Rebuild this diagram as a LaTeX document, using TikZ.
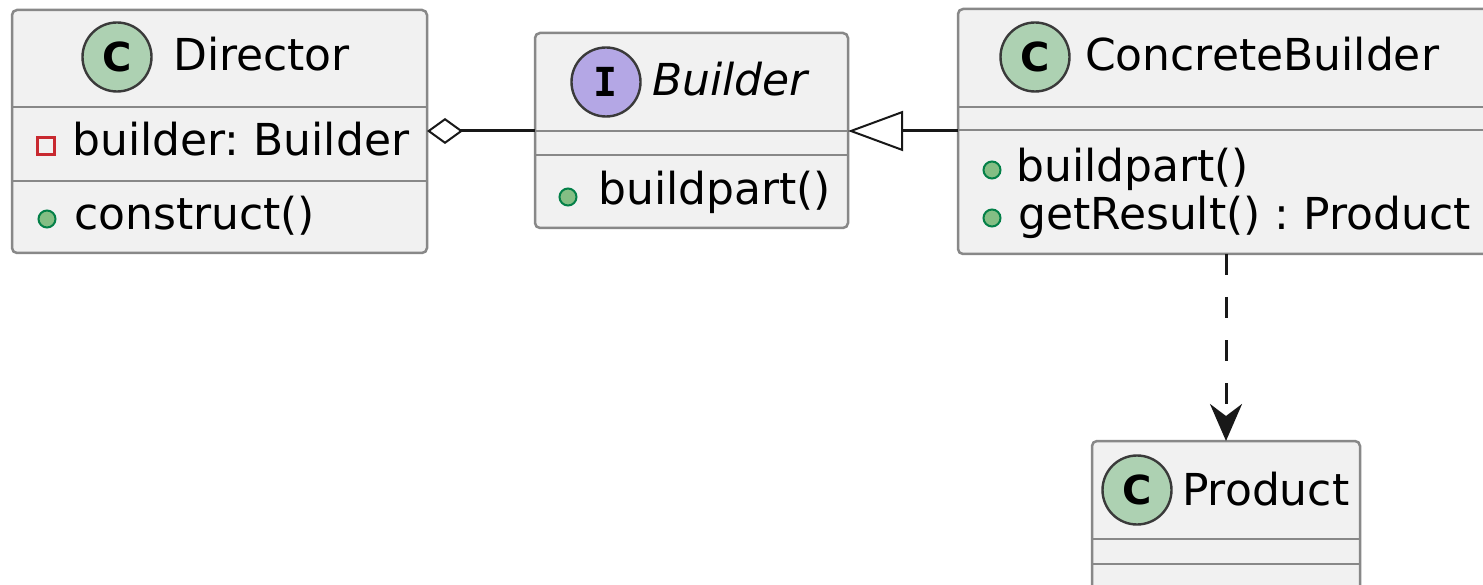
\documentclass[tikz,border=0pt]{standalone}
\usepackage{fontspec}
\setmainfont{DejaVu Sans}
\newfontfamily\stereomono{DejaVu Sans Mono}
\usetikzlibrary{arrows.meta}
\frenchspacing

\definecolor{boxfill}{HTML}{F1F1F1}
\definecolor{boxline}{HTML}{888888}
\definecolor{classC}{HTML}{ADD1B2}
\definecolor{ifaceI}{HTML}{B4A7E5}
\definecolor{ink}{HTML}{181818}
\definecolor{badgeline}{HTML}{3A3A3A}
\definecolor{privred}{HTML}{C82930}
\definecolor{pubfill}{HTML}{84BE84}
\definecolor{publine}{HTML}{038048}

\tikzset{
  classbox/.style={draw=boxline, fill=boxfill, line width=2.5pt, rounded corners=5pt,
    anchor=north west, inner sep=0pt, outer sep=0pt, rectangle},
  sepline/.style={draw=boxline, line width=2.5pt},
  badge/.style={circle, draw=badgeline, line width=2.4pt, minimum size=69pt, inner sep=0pt,
    font=\fontsize{40}{40}\selectfont\bfseries},
  membertext/.style={anchor=base west, inner sep=0pt, font=\fontsize{44}{50}\selectfont},
  privmark/.style={rectangle, draw=privred, line width=2.5pt, minimum size=17pt, inner sep=0pt},
  pubmark/.style={circle, draw=publine, fill=pubfill, line width=2pt, minimum size=17pt, inner sep=0pt},
  conn/.style={draw=ink, line width=3pt},
}

\begin{document}
\begin{tikzpicture}[x=1pt, y=-1pt]
  \useasboundingbox (0,0) rectangle (1483,585);
  \clip (0,0) rectangle (1483,585);

  % class boxes
  \node[classbox, minimum width=415pt, minimum height=243pt] (director) at (12,10) {};
  \node[classbox, minimum width=313pt, minimum height=195pt] (builder) at (535,33) {};
  \node[classbox, minimum width=535pt, minimum height=245pt] (concrete) at (958,9) {};
  \node[classbox, minimum width=268pt, minimum height=150pt] (product) at (1092,441) {};

  % compartment separators
  \draw[sepline] (12,107) -- (427,107);
  \draw[sepline] (12,181) -- (427,181);
  \draw[sepline] (535,131) -- (848,131);
  \draw[sepline] (535,155) -- (848,155);
  \draw[sepline] (958,107) -- (1493,107);
  \draw[sepline] (958,130) -- (1493,130);
  \draw[sepline] (1092,539) -- (1360,539);
  \draw[sepline] (1092,564) -- (1360,564);

  % Director
  \node[badge, fill=classC] (directorbadge) at (117,57) {C};
  \node[membertext] (directorname) at (173,71) {Director};
  \node[privmark] (directorpriv) at (46,146) {};
  \node[membertext] (directorattr) at (72,156) {builder: Builder};
  \node[pubmark] (directorpub) at (47,219) {};
  \node[membertext] (directorop) at (74,230) {construct()};

  % Builder interface
  \node[badge, fill=ifaceI, font=\fontsize{40}{40}\selectfont\stereomono\bfseries] (builderbadge) at (606,82) {I};
  \node[membertext, font=\fontsize{44}{50}\selectfont\itshape] (buildername) at (652,96) {Builder};
  \node[pubmark] (builderpub) at (568,197) {};
  \node[membertext] (builderop) at (598,205) {buildpart()};

  % ConcreteBuilder
  \node[badge, fill=classC] (concretebadge) at (1035,57) {C};
  \node[membertext] (concretename) at (1085,71) {ConcreteBuilder};
  \node[pubmark] (concretepubA) at (992,170) {};
  \node[membertext] (concreteopA) at (1016,182) {buildpart()};
  \node[pubmark] (concretepubB) at (992,218) {};
  \node[membertext] (concreteopB) at (1018,230) {getResult() : Product};

  % Product
  \node[badge, fill=classC] (productbadge) at (1137,490) {C};
  \node[membertext] (productname) at (1182,505) {Product};

  % relations
  \draw[conn, {Diamond[length=36pt, width=26pt, fill=white, line width=2pt]}-]
    (director.east |- 0,131) -- (builder.west |- 0,131);
  \draw[conn, {Triangle[length=55pt, width=40pt, fill=white, line width=2pt]}-]
    (builder.east |- 0,131) -- (concrete.west |- 0,131);
  \draw[conn, dash pattern=on 21pt off 22pt, -{Stealth[length=37pt, width=32pt, inset=12pt]}]
    (product.north |- concrete.south) -- (product.north);
\end{tikzpicture}
\end{document}
